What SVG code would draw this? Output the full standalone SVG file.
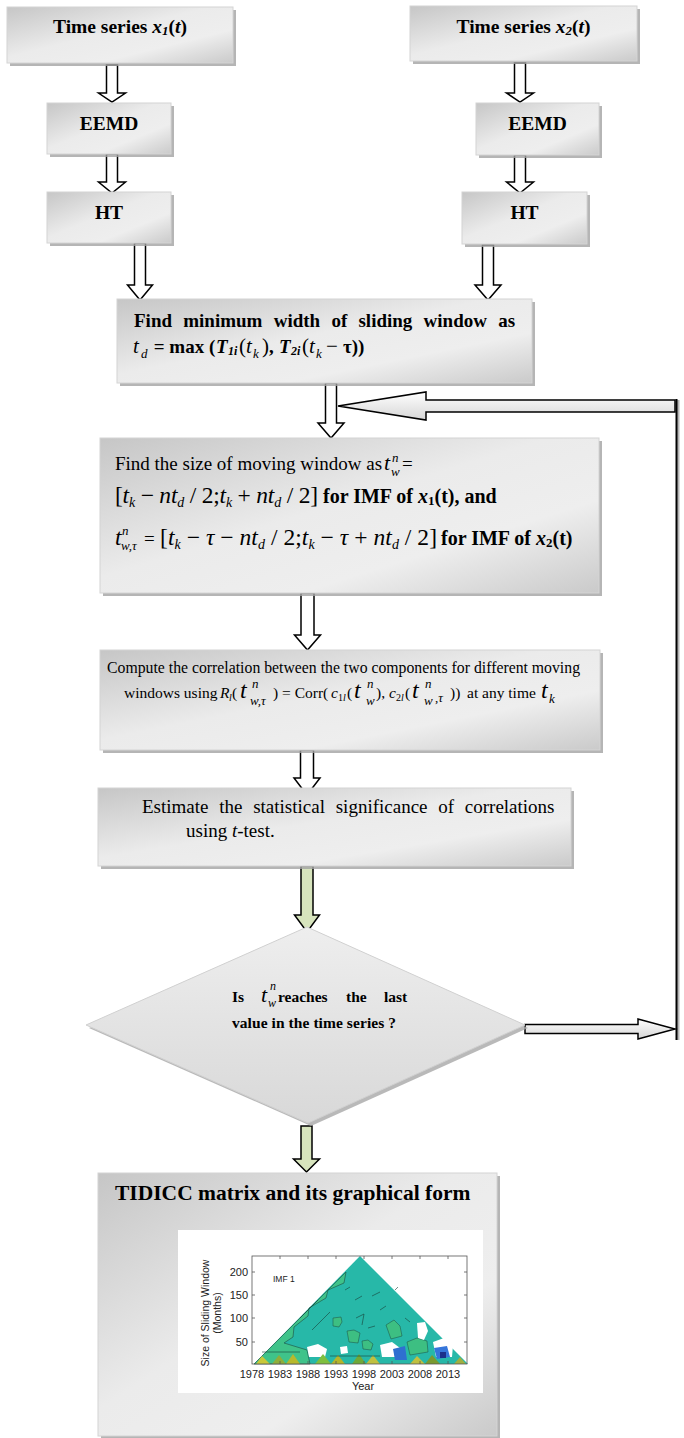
<svg xmlns="http://www.w3.org/2000/svg" width="684" height="1438" viewBox="0 0 684 1438">
<defs>
<linearGradient id="gBox" x1="0" y1="0" x2="1" y2="1">
<stop offset="0" stop-color="#c6c6c6"/>
<stop offset="0.45" stop-color="#ebebeb"/>
<stop offset="0.7" stop-color="#eeeeee"/>
<stop offset="1" stop-color="#cacaca"/>
</linearGradient>
<linearGradient id="gDia" x1="0" y1="0" x2="0" y2="1">
<stop offset="0" stop-color="#eeeeee"/>
<stop offset="1" stop-color="#d8d8d8"/>
</linearGradient>
<linearGradient id="gArr" x1="0" y1="0" x2="0" y2="1">
<stop offset="0" stop-color="#ffffff"/>
<stop offset="1" stop-color="#d6d6d6"/>
</linearGradient>
<style>
.box{fill:url(#gBox);stroke:#d4d4d4;stroke-width:1}
.sh{fill:#a3a3a3;opacity:.8}
.arr{fill:#ffffff;stroke:#000;stroke-width:1.5}
.garr{fill:#d7e4bd;stroke:#000;stroke-width:1.5}
.harr{fill:url(#gArr);stroke:#000;stroke-width:1.5}
.b{font-family:"Liberation Serif","Times New Roman",serif;font-weight:bold;fill:#000}
.r{font-family:"Liberation Serif","Times New Roman",serif;fill:#000}
.i{font-style:italic}
.s{font-family:"Liberation Sans",Arial,sans-serif;fill:#222}
.ol{fill:none;stroke:#173f38;stroke-width:.6}
.gp{fill:#3dbf82;stroke:#1d4d40;stroke-width:.5}
</style>
</defs>
<rect x="0" y="0" width="684" height="1438" fill="#ffffff"/>

<g id="connectors">
<polygon class="arr" points="106.5,65 117.5,65 117.5,93 125.5,93 112,102 98.5,93 106.5,93"/>
<polygon class="arr" points="106.5,154 117.5,154 117.5,182 125.5,182 112,193 98.5,182 106.5,182"/>
<polygon class="arr" points="514.5,63 525.5,63 525.5,93 533.5,93 520,102 506.5,93 514.5,93"/>
<polygon class="arr" points="514.5,155 525.5,155 525.5,182 533.5,182 520,193 506.5,182 514.5,182"/>
<polygon class="arr" points="134.5,243 145.5,243 145.5,285 152.5,285 140,300 127.5,285 134.5,285"/>
<polygon class="arr" points="482.5,245 493.5,245 493.5,285 501,285 488,300 475,285 482.5,285"/>
<polygon class="arr" points="325.5,383 336.5,383 336.5,423 344,423 331,438 318,423 325.5,423"/>
<polygon class="arr" points="301,593 314,593 314,635 320.5,635 307.5,650 294.5,635 301,635"/>
<polygon class="arr" points="300.5,750 313.5,750 313.5,778 320,778 307,795 294,778 300.5,778"/>
<polygon class="garr" points="301,866 313,866 313,915 319.5,915 307,932 294.5,915 301,915"/>
<polygon class="garr" points="301,1126 312,1126 312,1159 319.5,1159 306.5,1172 293.5,1159 301,1159"/>
<polygon class="harr" points="675,400 426,400 426,392 338,406 426,420 426,412 675,412"/>
<line x1="678" y1="400" x2="678" y2="1040" stroke="#b5b5b5" stroke-width="3"/>
<line x1="676.5" y1="399" x2="676.5" y2="1040" stroke="#000" stroke-width="2"/>
<polygon class="harr" points="525,1024.5 638,1024.5 638,1019 675,1029 638,1039 638,1033.5 525,1033.5"/>
</g>

<g id="n-x1">
<rect class="sh" x="10" y="10" width="226" height="56"/>
<rect class="box" x="7" y="7" width="226" height="56"/>
<text class="b" x="120" y="33" font-size="19.5" text-anchor="middle">Time series <tspan class="i">x</tspan><tspan class="i" font-size="13" dy="2">1</tspan><tspan dy="-2">(</tspan><tspan class="i">t</tspan>)</text>
</g>
<g id="n-eemd1">
<rect class="sh" x="50" y="106" width="124" height="51"/>
<rect class="box" x="47" y="103" width="124" height="51"/>
<text class="b" x="109" y="130" font-size="19.5" text-anchor="middle">EEMD</text>
</g>
<g id="n-ht1">
<rect class="sh" x="50" y="195" width="124" height="51"/>
<rect class="box" x="47" y="192" width="124" height="51"/>
<text class="b" x="109" y="219" font-size="19.5" text-anchor="middle">HT</text>
</g>
<g id="n-x2">
<rect class="sh" x="413" y="9" width="227" height="55"/>
<rect class="box" x="410" y="6" width="227" height="55"/>
<text class="b" x="523.5" y="33" font-size="19.5" text-anchor="middle">Time series <tspan class="i">x</tspan><tspan class="i" font-size="13" dy="2">2</tspan><tspan dy="-2">(</tspan><tspan class="i">t</tspan>)</text>
</g>
<g id="n-eemd2">
<rect class="sh" x="479" y="106" width="123" height="52"/>
<rect class="box" x="476" y="103" width="123" height="52"/>
<text class="b" x="537.5" y="130" font-size="19.5" text-anchor="middle">EEMD</text>
</g>
<g id="n-ht2">
<rect class="sh" x="465" y="195" width="125" height="52"/>
<rect class="box" x="462" y="192" width="125" height="52"/>
<text class="b" x="524.5" y="219" font-size="19.5" text-anchor="middle">HT</text>
</g>

<g id="n-slide">
<rect class="sh" x="120" y="302" width="415" height="84"/>
<rect class="box" x="117" y="299" width="415" height="84"/>
<text class="b" x="134" y="327" font-size="19" word-spacing="6.5">Find minimum width of sliding window as</text>
<text class="r i" x="133" y="353" font-size="21">t</text>
<text class="r i" x="141" y="358" font-size="13">d</text>
<text class="b" x="149" y="353" font-size="19" xml:space="preserve"> = max (</text>
<text class="b i" x="216" y="353" font-size="19">T</text>
<text class="b i" x="228" y="355" font-size="12">1i</text>
<text class="r" x="239" y="353" font-size="21">(</text>
<text class="r i" x="246" y="353" font-size="21">t</text>
<text class="r i" x="253" y="358" font-size="13">k</text>
<text class="r" x="262" y="353" font-size="21">)</text>
<text class="b" x="269" y="353" font-size="19">,</text>
<text class="b i" x="279" y="353" font-size="19">T</text>
<text class="b i" x="291" y="355" font-size="12">2i</text>
<text class="r" x="302" y="353" font-size="21">(</text>
<text class="r i" x="309" y="353" font-size="21">t</text>
<text class="r i" x="316" y="358" font-size="13">k</text>
<text class="r" x="326" y="353" font-size="21">−</text>
<text class="b" x="343" y="353" font-size="19">τ))</text>
</g>

<g id="n-move">
<rect class="sh" x="103" y="441" width="499" height="155"/>
<rect class="box" x="100" y="438" width="499" height="155"/>
<text class="r" x="115" y="470" font-size="19">Find the size of moving window as</text>
<text class="r i" x="384" y="470" font-size="22">t</text>
<text class="r i" x="392" y="462" font-size="13">n</text>
<text class="r i" x="391" y="476" font-size="13">w</text>
<text class="r" x="402" y="470" font-size="19">=</text>
<text class="r" x="115" y="503" font-size="23.5" textLength="203" lengthAdjust="spacing">[<tspan class="i">t</tspan><tspan class="i" font-size="14" dy="4">k</tspan><tspan dy="-4"> − </tspan><tspan class="i">nt</tspan><tspan class="i" font-size="14" dy="4">d</tspan><tspan dy="-4"> / 2;</tspan><tspan class="i">t</tspan><tspan class="i" font-size="14" dy="4">k</tspan><tspan dy="-4"> + </tspan><tspan class="i">nt</tspan><tspan class="i" font-size="14" dy="4">d</tspan><tspan dy="-4"> / 2]</tspan></text>
<text class="b" x="323" y="503" font-size="20"> for IMF of <tspan class="i">x</tspan><tspan font-size="13" dy="2">1</tspan><tspan dy="-2">(t), and</tspan></text>
<text class="r i" x="115" y="545" font-size="23.5">t</text>
<text class="r i" x="122" y="535" font-size="13">n</text>
<text class="r i" x="121" y="550" font-size="13">w,τ</text>
<text class="r" x="144" y="545" font-size="19">=</text>
<text class="r" x="160" y="545" font-size="23.5" textLength="277" lengthAdjust="spacing">[<tspan class="i">t</tspan><tspan class="i" font-size="14" dy="4">k</tspan><tspan dy="-4"> − </tspan><tspan class="i">τ</tspan> − <tspan class="i">nt</tspan><tspan class="i" font-size="14" dy="4">d</tspan><tspan dy="-4"> / 2;</tspan><tspan class="i">t</tspan><tspan class="i" font-size="14" dy="4">k</tspan><tspan dy="-4"> − </tspan><tspan class="i">τ</tspan> + <tspan class="i">nt</tspan><tspan class="i" font-size="14" dy="4">d</tspan><tspan dy="-4"> / 2]</tspan></text>
<text class="b" x="441" y="545" font-size="20"> for IMF of <tspan class="i">x</tspan><tspan font-size="13" dy="2">2</tspan><tspan dy="-2">(t)</tspan></text>
</g>

<g id="n-corr">
<rect class="sh" x="103" y="653" width="500" height="100"/>
<rect class="box" x="100" y="650" width="500" height="100"/>
<text class="r" x="107" y="673" font-size="15.75" textLength="473" lengthAdjust="spacing">Compute the correlation between the two components for different moving</text>
<text class="r" x="124" y="698" font-size="15.5">windows using</text>
<text class="r i" x="220" y="698" font-size="15.5">R</text>
<text class="r i" x="229" y="701" font-size="10">l</text>
<text class="r" x="232" y="698" font-size="15.5">(</text>
<text class="r i" x="240" y="698" font-size="24">t</text>
<text class="r i" x="252" y="688" font-size="13">n</text>
<text class="r i" x="250" y="705" font-size="13">w,τ</text>
<text class="r" x="273" y="698" font-size="15.5">) = Corr(</text>
<text class="r i" x="331" y="698" font-size="15.5">c</text>
<text class="r" x="338" y="701" font-size="10">1<tspan class="i">l</tspan></text>
<text class="r" x="347" y="698" font-size="15.5">(</text>
<text class="r i" x="354" y="698" font-size="24">t</text>
<text class="r i" x="367" y="688" font-size="13">n</text>
<text class="r i" x="366" y="705" font-size="13">w</text>
<text class="r" x="376" y="698" font-size="15.5">),</text>
<text class="r i" x="389" y="698" font-size="15.5">c</text>
<text class="r" x="396" y="701" font-size="10">2<tspan class="i">l</tspan></text>
<text class="r" x="405" y="698" font-size="15.5">(</text>
<text class="r i" x="412" y="698" font-size="24">t</text>
<text class="r i" x="425" y="688" font-size="13">n</text>
<text class="r i" x="424" y="705" font-size="13">w</text>
<text class="r" x="435" y="702" font-size="13">,<tspan class="i">τ</tspan></text>
<text class="r" x="450" y="698" font-size="15.5">))</text>
<text class="r" x="467" y="698" font-size="15.5">at any time</text>
<text class="r i" x="541" y="698" font-size="24">t</text>
<text class="r i" x="549" y="703" font-size="13">k</text>
</g>

<g id="n-ttest">
<rect class="sh" x="101" y="791" width="473" height="78"/>
<rect class="box" x="98" y="788" width="473" height="78"/>
<text class="r" x="142" y="813" font-size="19" word-spacing="6">Estimate the statistical significance of correlations</text>
<text class="r" x="186" y="837" font-size="19">using <tspan class="i">t</tspan>-test.</text>
</g>

<g id="n-decision">
<polygon points="310,930 528,1028 311,1126 89,1028" fill="#a8a8a8" opacity="0.8"/>
<polygon points="307,927 525,1025 308,1123 86,1025" fill="url(#gDia)" stroke="#d0d0d0" stroke-width="1"/>
<text class="b" x="232" y="1002" font-size="15.5">Is</text>
<text class="r i" x="261" y="1002" font-size="22">t</text>
<text class="r i" x="270" y="990" font-size="12">n</text>
<text class="r i" x="268" y="1007" font-size="12">w</text>
<text class="b" x="278" y="1002" font-size="15.5">reaches</text>
<text class="b" x="346" y="1002" font-size="15.5">the</text>
<text class="b" x="384" y="1002" font-size="15.5">last</text>
<text class="b" x="232" y="1028" font-size="15.5" textLength="164" lengthAdjust="spacing">value in the time series ?</text>
</g>

<g id="n-result">
<rect class="sh" x="101" y="1176" width="399" height="263"/>
<rect class="box" x="98" y="1173" width="399" height="263"/>
<text class="b" x="115" y="1200" font-size="21.5">TIDICC matrix and its graphical form</text>
<rect x="178" y="1230" width="305" height="163" fill="#ffffff"/>
<g id="chart">
<polygon points="254,1364 360,1256 468,1364" fill="#27b8a8"/>
<polygon points="254,1364 346,1272 344,1283 328,1290 326,1298 309,1308 308,1316 294,1327 293,1337 284,1343 307,1350 310,1364" fill="#3fc38a" stroke="#1d4d40" stroke-width=".6"/>
<polygon class="gp" points="333,1318 341,1317 342,1322 339,1327 333,1326"/>
<polygon class="gp" points="347,1331 354,1330 360,1333 358,1343 349,1342"/>
<polygon class="gp" points="362,1341 368,1340 373,1344 371,1350 363,1349"/>
<polygon class="gp" points="386,1325 394,1320 400,1326 402,1336 391,1339"/>
<polygon class="gp" points="407,1342 417,1338 427,1341 428,1352 410,1355"/>
<polygon points="307,1347 318,1344 327,1349 325,1357 309,1357" fill="#ffffff"/>
<polygon points="340,1347 347,1346 348,1353 341,1354" fill="#ffffff"/>
<polygon points="380,1345 392,1342 400,1348 398,1357 382,1357" fill="#ffffff"/>
<polygon points="417,1323 425,1322 428,1331 424,1340 418,1338" fill="#ffffff"/>
<polygon points="433,1342 444,1338 453,1345 452,1357 436,1357" fill="#ffffff"/>
<polygon points="393,1349 405,1346 407,1360 395,1360" fill="#2f6fd0"/>
<polygon points="434,1348 447,1346 450,1357 437,1359" fill="#3575da"/>
<polygon points="440,1352 446,1352 446,1358 440,1358" fill="#1b2f8a"/>
<polygon points="256,1364 262,1356 270,1364" fill="#c9c83a"/>
<polygon points="272,1364 279,1355 286,1364" fill="#8fae3a"/>
<polygon points="286,1364 293,1354 300,1364" fill="#b8b92c"/>
<polygon points="315,1364 323,1354 331,1364" fill="#7fbf3f"/>
<polygon points="331,1364 338,1355 345,1364" fill="#b5b52a"/>
<polygon points="352,1364 359,1354 366,1364" fill="#6fa838"/>
<polygon points="366,1364 373,1355 380,1364" fill="#c0c040"/>
<polygon points="410,1364 417,1356 425,1364" fill="#c0c040"/>
<polygon points="425,1364 432,1355 440,1364" fill="#7a9a30"/>
<polygon points="454,1364 460,1357 466,1364" fill="#a0b040"/>
<path class="ol" d="M300,1318 L318,1300 M312,1330 L330,1312 M355,1300 L362,1296 M372,1296 L380,1292 M395,1290 L398,1287 M356,1318 L364,1314 L362,1325 M368,1328 L375,1326 M380,1310 L386,1306 M345,1290 L350,1287 M405,1318 L410,1322 M262,1352 L300,1352 M330,1356 L380,1356"/>
<rect x="252" y="1256" width="215" height="108" fill="none" stroke="#555" stroke-width=".8"/>
<path d="M252,1272 h3 M252,1295 h3 M252,1318 h3 M252,1342 h3 M467,1272 h-3 M467,1295 h-3 M467,1318 h-3 M467,1342 h-3 M280,1364 v-3 M308,1364 v-3 M336,1364 v-3 M364,1364 v-3 M392,1364 v-3 M420,1364 v-3 M448,1364 v-3 M280,1256 v3 M308,1256 v3 M336,1256 v3 M364,1256 v3 M392,1256 v3 M420,1256 v3 M448,1256 v3" stroke="#555" stroke-width=".8" fill="none"/>
<text class="s" x="273" y="1282" font-size="8.5">IMF 1</text>
<text class="s" x="248" y="1276" font-size="11" text-anchor="end">200</text>
<text class="s" x="248" y="1299" font-size="11" text-anchor="end">150</text>
<text class="s" x="248" y="1322" font-size="11" text-anchor="end">100</text>
<text class="s" x="248" y="1346" font-size="11" text-anchor="end">50</text>
<text class="s" y="1378" font-size="11" text-anchor="middle"><tspan x="252">1978</tspan><tspan x="280">1983</tspan><tspan x="308">1988</tspan><tspan x="336">1993</tspan><tspan x="364">1998</tspan><tspan x="392">2003</tspan><tspan x="420">2008</tspan><tspan x="448">2013</tspan></text>
<text class="s" x="363" y="1390" font-size="11" text-anchor="middle">Year</text>
<text class="s" font-size="10.5" text-anchor="middle" transform="translate(209,1313) rotate(-90)">Size of Sliding Window</text>
<text class="s" font-size="10.5" text-anchor="middle" transform="translate(221,1313) rotate(-90)">(Months)</text>
</g>
</g>
</svg>
